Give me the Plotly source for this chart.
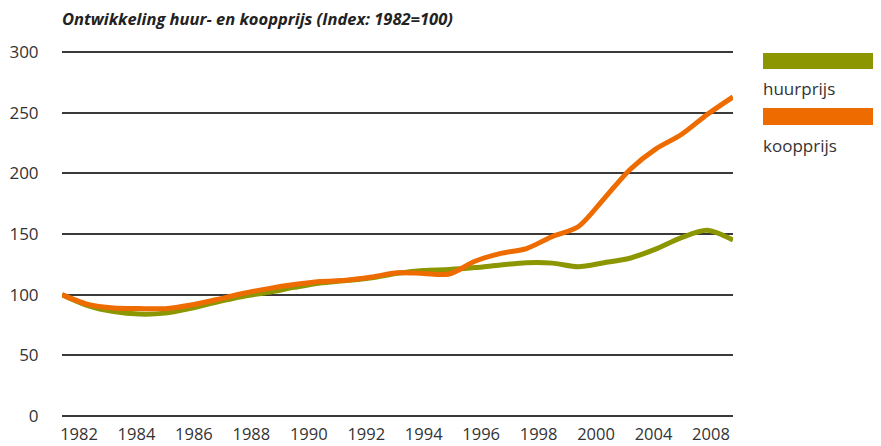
import plotly.graph_objects as go

years = list(range(1982, 2009))
huurprijs = [100, 91, 86, 84, 84.8, 88.8, 94, 98.5, 102, 106, 109.6, 111.6, 114, 117.6,
             120, 120.7, 122.3, 124.5, 126.3, 126, 123, 126.3, 130, 137.5, 147, 153, 145]
koopprijs = [100, 92, 89, 88.5, 88.5, 91.5, 96, 101, 105, 108.3, 110.8, 111.8, 114.5, 118,
             117.5, 117, 127.5, 134, 138, 148, 156, 179, 203, 220, 232, 248.5, 263]
tick_labels = ["1982", "1984", "1986", "1988", "1990", "1992", "1994", "1996", "1998",
               "2000", "2004", "2008"]
y_ticks = [0, 50, 100, 150, 200, 250, 300]
series_names = ["huurprijs", "koopprijs"]
colors = ["#8C9600", "#EE6B00"]
title = "Ontwikkeling huur- en koopprijs (Index: 1982=100)"

FONT = "Open Sans"
OFF = 8  # default page body margin
W, H = 881 - OFF, 446 - OFF
L, R = 62 - OFF, 733 - OFF
Y300, Y0 = 52 - OFF, 416 - OFF
PAD = 2
ppu = (Y0 - Y300) / 300.0
ext = PAD / ppu
T, B = Y300 - PAD, Y0 + PAD

fig = go.Figure()
for name, vals, col in zip(series_names, [huurprijs, koopprijs], colors):
    fig.add_trace(go.Scatter(x=years, y=vals, mode="lines", name=name,
                             line=dict(color=col, width=5, shape="spline", smoothing=0.8),
                             showlegend=False, hoverinfo="skip"))
# invisible trace to carry the category tick labels
fig.add_trace(go.Scatter(x=tick_labels, y=[None] * len(tick_labels), xaxis="x2",
                         mode="markers", showlegend=False, hoverinfo="skip"))

def px_x(p):
    return (p - OFF - L) / (R - L)

def px_y(p):
    return (B - (p - OFF)) / (B - T)

shapes = []
annotations = []
legend_rows = [(53, 69, 89), (108, 125, 145)]
for (y0, y1, ty), name, col in zip(legend_rows, series_names, colors):
    shapes.append(dict(type="rect", xref="paper", yref="paper",
                       x0=px_x(763), x1=px_x(885), y0=px_y(y1), y1=px_y(y0),
                       fillcolor=col, line=dict(width=0)))
    annotations.append(dict(text=name, xref="paper", yref="paper", x=px_x(761), y=px_y(ty),
                            xanchor="left", yanchor="middle", showarrow=False,
                            font=dict(family=FONT, size=17, color="#333333")))
annotations.append(dict(text="<b><i>" + title + "</i></b>", xref="paper", yref="paper",
                        x=px_x(60), y=px_y(19), xanchor="left", yanchor="middle",
                        showarrow=False, font=dict(family=FONT, size=16.5, color="#222222")))

fig.update_layout(
    width=W, height=H,
    margin=dict(l=L, r=W - R, t=T, b=H - B, pad=0, autoexpand=False),
    paper_bgcolor="white", plot_bgcolor="white",
    xaxis=dict(range=[1982, 2008], showticklabels=False, showgrid=False, zeroline=False,
               showline=False, ticks="", automargin=False),
    xaxis2=dict(type="category", overlaying="x", side="bottom",
                range=[-17 / 57.45, (733 - 79) / 57.45],
                showgrid=False, zeroline=False, showline=False, automargin=False,
                ticks="outside", ticklen=1, tickcolor="rgba(0,0,0,0)",
                tickfont=dict(family=FONT, size=16.5, color="#333333")),
    yaxis=dict(range=[-ext, 300 + ext], tickvals=y_ticks, showgrid=True, gridcolor="#3a3a3a",
               gridwidth=1.5, zeroline=False, showline=False, automargin=False,
               ticks="outside", ticklen=19, tickcolor="rgba(0,0,0,0)",
               tickfont=dict(family=FONT, size=17, color="#333333")),
    shapes=shapes, annotations=annotations,
)
fig.write_html("out.html")
